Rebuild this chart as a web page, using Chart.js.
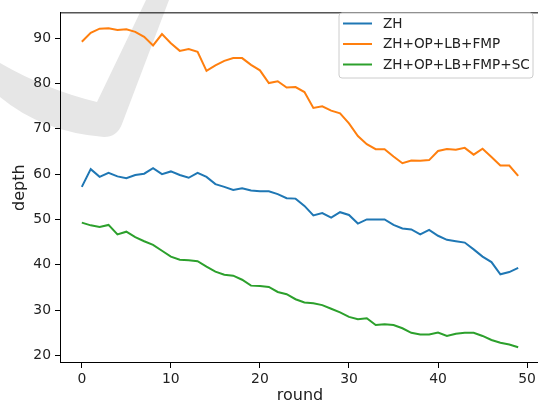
<!DOCTYPE html>
<html>
<head>
<meta charset="utf-8">
<script src="https://cdn.jsdelivr.net/npm/chart.js@4/dist/chart.umd.min.js"></script>
<style>
html,body{margin:0;padding:0;background:#fff;overflow:hidden;width:538px;height:405px;}
canvas{display:block;}
</style>
</head>
<body>
<canvas id="c" width="542" height="405"></canvas>
<script>
const rounds = [0,1,2,3,4,5,6,7,8,9,10,11,12,13,14,15,16,17,18,19,20,21,22,23,24,25,26,27,28,29,30,31,32,33,34,35,36,37,38,39,40,41,42,43,44,45,46,47,48,49];
const seriesLabels = ['ZH', 'ZH+OP+LB+FMP', 'ZH+OP+LB+FMP+SC'];
const zh = [57.2,61.1,59.4,60.3,59.5,59.1,59.8,60.1,61.3,60.0,60.6,59.8,59.2,60.3,59.4,57.8,57.2,56.5,56.9,56.4,56.2,56.2,55.6,54.7,54.6,53.0,50.9,51.4,50.4,51.6,51.0,49.1,50.0,50.0,50.0,48.8,48.0,47.8,46.7,47.7,46.4,45.5,45.2,44.9,43.4,41.8,40.6,37.9,38.4,39.3];
const zhOpLbFmp = [89.2,91.2,92.1,92.2,91.8,91.95,91.4,90.3,88.4,90.9,88.9,87.2,87.6,87.0,82.8,84.0,85.0,85.6,85.6,84.1,82.9,80.1,80.5,79.1,79.2,78.1,74.6,74.95,74.0,73.4,71.2,68.4,66.6,65.5,65.5,63.9,62.4,63.0,62.95,63.1,65.1,65.55,65.4,65.8,64.3,65.6,63.8,61.9,61.9,59.6];
const zhOpLbFmpSc = [49.3,48.7,48.35,48.8,46.7,47.3,46.1,45.2,44.4,43.1,41.8,41.1,41.0,40.8,39.6,38.5,37.8,37.6,36.7,35.4,35.3,35.1,34.0,33.5,32.4,31.7,31.5,31.1,30.3,29.5,28.5,28.0,28.2,26.7,26.9,26.7,26.0,25.0,24.6,24.6,25.05,24.3,24.8,25.0,25.0,24.3,23.4,22.8,22.4,21.8];
const xTicks = [0,10,20,30,40,50];
const yTicks = [20,30,40,50,60,70,80,90];
const colors = ['#1f77b4', '#ff7f0e', '#2ca02c'];

const FONT = "'DejaVu Sans', sans-serif";
const seriesValues = [zh, zhOpLbFmp, zhOpLbFmpSc];

const datasets = seriesValues.map((vals, k) => ({
  label: seriesLabels[k],
  data: rounds.map((r, i) => ({x: r, y: vals[i]})),
  borderColor: colors[k],
  backgroundColor: colors[k],
  borderWidth: 2,
  pointRadius: 0,
  tension: 0,
  fill: false
}));

const watermark = {
  id: 'watermark',
  beforeDraw(chart) {
    const ctx = chart.ctx;
    ctx.save();
    ctx.fillStyle = '#ffffff';
    ctx.fillRect(0, 0, chart.width, chart.height);
    ctx.fillStyle = '#e6e6e6';
    ctx.beginPath();
    ctx.moveTo(146, 0);
    ctx.lineTo(169, 0);
    ctx.lineTo(122, 124);
    ctx.quadraticCurveTo(117, 137, 104, 137);
    ctx.quadraticCurveTo(42, 132, 0, 97);
    ctx.lineTo(0, 63);
    ctx.quadraticCurveTo(47, 90, 97, 102);
    ctx.closePath();
    ctx.fill();
    ctx.restore();
  }
};

const frame = {
  id: 'frame',
  afterDatasetsDraw(chart) {
    const a = chart.chartArea, ctx = chart.ctx;
    ctx.save();
    ctx.strokeStyle = '#000';
    ctx.lineWidth = 1;
    ctx.strokeRect(a.left + 0.5, a.top + 0.5, a.right - a.left - 1, a.bottom - a.top - 1);
    ctx.restore();
  }
};

const boxLegend = {
  id: 'boxLegend',
  afterDraw(chart) {
    const ctx = chart.ctx;
    const x0 = 339, y0 = 13, w = 194, h = 65, r = 3;
    ctx.save();
    ctx.beginPath();
    ctx.moveTo(x0 + r, y0);
    ctx.arcTo(x0 + w, y0, x0 + w, y0 + h, r);
    ctx.arcTo(x0 + w, y0 + h, x0, y0 + h, r);
    ctx.arcTo(x0, y0 + h, x0, y0, r);
    ctx.arcTo(x0, y0, x0 + w, y0, r);
    ctx.closePath();
    ctx.fillStyle = 'rgba(255,255,255,0.8)';
    ctx.fill();
    ctx.strokeStyle = '#cccccc';
    ctx.lineWidth = 1;
    ctx.stroke();
    ctx.font = '13.6px ' + FONT;
    ctx.textBaseline = 'middle';
    ctx.textAlign = 'left';
    chart.data.datasets.forEach((ds, i) => {
      const y = y0 + 10.5 + i * 20.5;
      ctx.strokeStyle = ds.borderColor;
      ctx.lineWidth = 2;
      ctx.beginPath();
      ctx.moveTo(343, y);
      ctx.lineTo(372, y);
      ctx.stroke();
      ctx.fillStyle = '#222';
      ctx.fillText(ds.label, 383, y + 0.5);
    });
    ctx.restore();
  }
};

new Chart(document.getElementById('c'), {
  type: 'line',
  data: { datasets },
  options: {
    responsive: false,
    devicePixelRatio: 1,
    animation: false,
    layout: { padding: { left: 0, right: 2, top: 6, bottom: 0 } },
    plugins: { legend: { display: false }, tooltip: { enabled: false } },
    scales: {
      x: {
        type: 'linear',
        min: -2.45,
        max: 51.45,
        afterBuildTicks(s) { s.ticks = xTicks.map(v => ({value: v})); },
        afterFit(s) { s.height = 42; },
        grid: { display: true, drawOnChartArea: false, drawTicks: true, tickLength: 5, tickColor: '#000', color: '#000' },
        border: { display: true, color: '#000', width: 1 },
        ticks: { color: '#222', font: { family: FONT, size: 13.9 }, padding: 3, maxRotation: 0, autoSkip: false },
        title: { display: true, text: 'round', color: '#222', font: { family: FONT, size: 16 }, padding: { top: 0, bottom: 0 } }
      },
      y: {
        type: 'linear',
        min: 18.33,
        max: 95.7,
        afterBuildTicks(s) { s.ticks = yTicks.map(v => ({value: v})); },
        afterFit(s) { s.width = 60; },
        grid: { display: true, drawOnChartArea: false, drawTicks: true, tickLength: 5, tickColor: '#000', color: '#000' },
        border: { display: true, color: '#000', width: 1 },
        ticks: { color: '#222', font: { family: FONT, size: 13.9 }, padding: 4, autoSkip: false },
        title: { display: true, text: 'depth', color: '#222', font: { family: FONT, size: 16 }, padding: { top: 10, bottom: 0 } }
      }
    }
  },
  plugins: [watermark, frame, boxLegend]
});
</script>
</body>
</html>
